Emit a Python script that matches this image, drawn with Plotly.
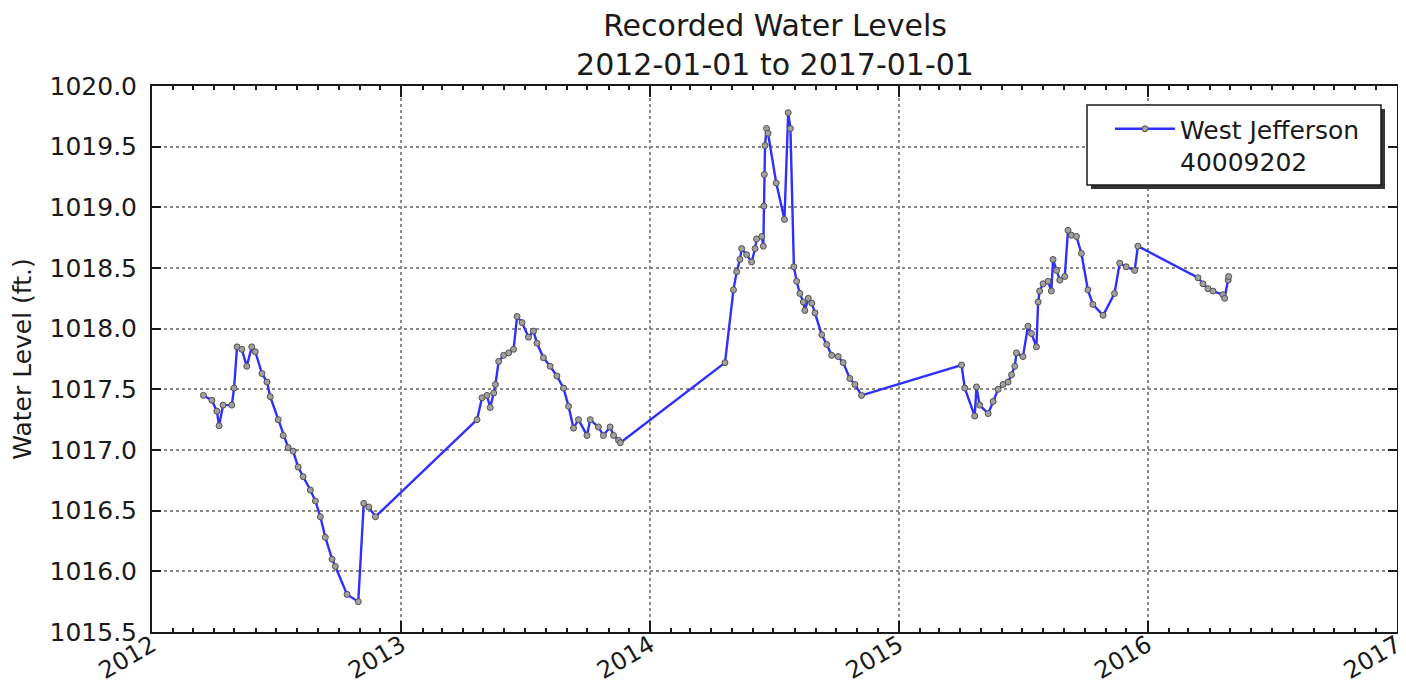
import pandas as pd
import plotly.graph_objects as go

# decimal-year dates of recorded readings
dec_years = [
    2012.206, 2012.240, 2012.260, 2012.269, 2012.285, 2012.320, 2012.329, 2012.341, 2012.360, 2012.380,
    2012.400, 2012.414, 2012.441, 2012.461, 2012.474, 2012.506, 2012.526, 2012.546, 2012.566, 2012.586,
    2012.606, 2012.635, 2012.655, 2012.675, 2012.695, 2012.722, 2012.735, 2012.782, 2012.827, 2012.849,
    2012.869, 2012.896,
    2013.304, 2013.324, 2013.344, 2013.357, 2013.371, 2013.378, 2013.391, 2013.411, 2013.431, 2013.451,
    2013.465, 2013.485, 2013.511, 2013.531, 2013.545, 2013.571, 2013.598, 2013.625, 2013.652, 2013.672,
    2013.692, 2013.712, 2013.746, 2013.759, 2013.792, 2013.812, 2013.839, 2013.853, 2013.873, 2013.880,
    2014.301, 2014.335, 2014.348, 2014.361, 2014.368, 2014.388, 2014.408, 2014.422, 2014.428, 2014.449,
    2014.455, 2014.457, 2014.459, 2014.462, 2014.468, 2014.474, 2014.507, 2014.540, 2014.555, 2014.564,
    2014.578, 2014.589, 2014.602, 2014.616, 2014.622, 2014.636, 2014.650, 2014.663, 2014.690, 2014.710,
    2014.730, 2014.756, 2014.776, 2014.803, 2014.823, 2014.850,
    2015.252, 2015.265, 2015.305, 2015.312, 2015.325, 2015.359, 2015.379, 2015.399, 2015.419, 2015.439,
    2015.453, 2015.466, 2015.473, 2015.499, 2015.519, 2015.533, 2015.553, 2015.560, 2015.566, 2015.580,
    2015.600, 2015.613, 2015.620, 2015.634, 2015.647, 2015.667, 2015.680, 2015.694, 2015.714, 2015.734,
    2015.760, 2015.780, 2015.821, 2015.867, 2015.888, 2015.914, 2015.948, 2015.961,
    2016.202, 2016.222, 2016.242, 2016.262, 2016.302, 2016.309, 2016.323, 2016.325,
]

# water level (ft.)
levels = [
    1017.45, 1017.41, 1017.32, 1017.20, 1017.37, 1017.37, 1017.51, 1017.85, 1017.83, 1017.69,
    1017.85, 1017.81, 1017.63, 1017.56, 1017.44, 1017.25, 1017.12, 1017.02, 1016.99, 1016.86,
    1016.78, 1016.67, 1016.58, 1016.45, 1016.28, 1016.10, 1016.04, 1015.81, 1015.75, 1016.56,
    1016.53, 1016.45,
    1017.25, 1017.43, 1017.45, 1017.35, 1017.47, 1017.54, 1017.73, 1017.78, 1017.80, 1017.83,
    1018.10, 1018.05, 1017.93, 1017.98, 1017.88, 1017.76, 1017.69, 1017.61, 1017.51, 1017.36,
    1017.18, 1017.25, 1017.12, 1017.25, 1017.19, 1017.12, 1017.19, 1017.12, 1017.08, 1017.06,
    1017.72, 1018.32, 1018.47, 1018.57, 1018.66, 1018.61, 1018.55, 1018.66, 1018.74, 1018.76,
    1018.68, 1019.01, 1019.27, 1019.51, 1019.65, 1019.61, 1019.20, 1018.90, 1019.78, 1019.65,
    1018.51, 1018.39, 1018.29, 1018.22, 1018.15, 1018.25, 1018.21, 1018.13, 1017.95, 1017.87,
    1017.78, 1017.77, 1017.72, 1017.59, 1017.54, 1017.45,
    1017.70, 1017.51, 1017.28, 1017.52, 1017.37, 1017.30, 1017.40, 1017.50, 1017.54, 1017.56,
    1017.62, 1017.69, 1017.80, 1017.77, 1018.02, 1017.96, 1017.85, 1018.22, 1018.31, 1018.37,
    1018.39, 1018.31, 1018.57, 1018.48, 1018.40, 1018.43, 1018.81, 1018.77, 1018.76, 1018.62,
    1018.32, 1018.20, 1018.11, 1018.29, 1018.54, 1018.51, 1018.48, 1018.68,
    1018.42, 1018.37, 1018.33, 1018.31, 1018.28, 1018.25, 1018.40, 1018.43,
]

year_ticks = [2012, 2013, 2014, 2015, 2016, 2017]
y_ticks = [1015.5, 1016.0, 1016.5, 1017.0, 1017.5, 1018.0, 1018.5, 1019.0, 1019.5, 1020.0]
series_name = "West Jefferson<br>40009202"
title_text = "Recorded Water Levels<br>2012-01-01 to 2017-01-01"
y_title = "Water Level (ft.)"


def to_date(d):
    y = int(d)
    start = pd.Timestamp(y, 1, 1)
    span = (pd.Timestamp(y + 1, 1, 1) - start).days
    return start + pd.Timedelta(days=(d - y) * span)


dates = [to_date(d) for d in dec_years]
tick_dates = [pd.Timestamp(y, 1, 1) for y in year_ticks]

FONT = "DejaVu Sans"
INK = "#1a1a1a"

fig = go.Figure()
fig.add_trace(go.Scatter(
    x=dates, y=levels, mode="lines+markers", name=series_name,
    line=dict(color="#2f2fff", width=2.4),
    marker=dict(size=6, color="#a0a0a0", line=dict(color="#505050", width=1)),
))

# page offset: the html body adds an 8px margin
OFF = 8
W, H = 1406 - OFF, 687 - OFF
ml, mr, mt, mb = 152 - OFF, 9, 86 - OFF, 55
pw, ph = W - ml - mr, H - mt - mb


def px_x(x):  # page px -> paper
    return (x - OFF - ml) / pw


def px_y(y):  # page px -> paper
    return (H - mb - (y - OFF)) / ph


# legend frame with drop shadow (matplotlib-style)
bx0, bx1, by0, by1 = 1087, 1381, 105, 185
sh = 4
shapes = [
    dict(type="rect", xref="paper", yref="paper", layer="above",
         x0=px_x(bx0 + sh), x1=px_x(bx1 + sh), y0=px_y(by1 + sh), y1=px_y(by0 + sh),
         fillcolor="#333333", line=dict(width=0)),
    dict(type="rect", xref="paper", yref="paper", layer="above",
         x0=px_x(bx0), x1=px_x(bx1), y0=px_y(by1), y1=px_y(by0),
         fillcolor="white", line=dict(color=INK, width=1.5)),
]

fig.update_layout(
    width=W, height=H,
    margin=dict(l=ml, r=mr, t=mt, b=mb, autoexpand=False),
    paper_bgcolor="white", plot_bgcolor="white",
    font=dict(family=FONT, color=INK, size=25),
    title=dict(text=title_text, x=px_x(775), xref="paper", xanchor="center",
               y=1 - 28 / H, yanchor="middle", automargin=False,
               font=dict(size=30, family=FONT, color=INK)),
    showlegend=True,
    legend=dict(x=px_x(1110), y=px_y(106), xanchor="left", yanchor="top",
                bgcolor="rgba(0,0,0,0)", borderwidth=0, valign="top",
                itemwidth=60, font=dict(size=25, family=FONT, color=INK)),
    shapes=shapes,
)

fig.update_xaxes(
    type="date", range=[tick_dates[0], tick_dates[-1]], automargin=False,
    tickvals=tick_dates, ticktext=[str(y) for y in year_ticks], tickangle=-30,
    ticklabeloverflow="allow", ticklabelstandoff=-12,
    showgrid=True, gridcolor="#8a8a8a", griddash="dot", gridwidth=1.5,
    showline=True, linecolor=INK, linewidth=2, mirror="ticks",
    ticks="inside", ticklen=11, tickcolor=INK, tickwidth=1.5,
    minor=dict(ticks="inside", ticklen=4, tickcolor=INK, dtick="M1", showgrid=False),
    tickfont=dict(size=24, family=FONT, color=INK), zeroline=False,
)
fig.update_yaxes(
    range=[1015.5, 1020.0], tickvals=y_ticks, ticktext=[f"{v:.1f}" for v in y_ticks],
    automargin=False,
    showgrid=True, gridcolor="#8a8a8a", griddash="dot", gridwidth=1.5,
    showline=True, linecolor=INK, linewidth=2, mirror="ticks",
    ticks="inside", ticklen=9, tickcolor=INK, tickwidth=1.5, ticklabelstandoff=8,
    tickfont=dict(size=25, family=FONT, color=INK), zeroline=False,
    title=dict(text=y_title, font=dict(size=25, family=FONT, color=INK), standoff=14),
)

fig.write_html("out.html")
